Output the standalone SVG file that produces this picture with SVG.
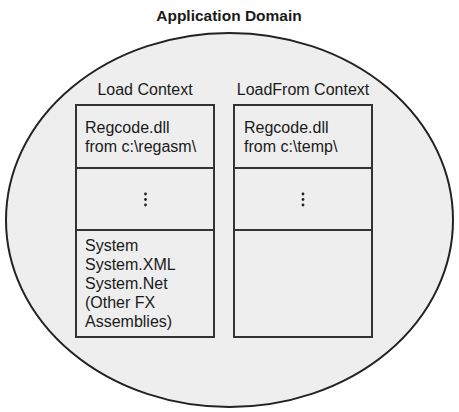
<svg xmlns="http://www.w3.org/2000/svg" width="459" height="412" viewBox="0 0 459 412">
<style>
.t{font-family:"Liberation Sans",Arial,sans-serif;font-size:16px;fill:#1a1a1a}
.h{font-family:"Liberation Sans",Arial,sans-serif;font-size:16px;fill:#1a1a1a}
.title{font-family:"Liberation Sans",Arial,sans-serif;font-size:15.5px;font-weight:bold;fill:#1a1a1a}
.box{fill:#eeeeee;stroke:#333;stroke-width:2}
.div{stroke:#333;stroke-width:2}
</style>
<rect width="459" height="412" fill="#fff"/>
<g id="domain">
<ellipse cx="229.5" cy="220" rx="223.5" ry="187" fill="#eeeeee" stroke="#222" stroke-width="2"/>
<text class="title" x="229" y="21" text-anchor="middle">Application Domain</text>
</g>
<g id="load-context">
<text class="h" x="145" y="95" text-anchor="middle">Load Context</text>
<rect class="box" x="76" y="105" width="138" height="232"/>
<line class="div" x1="76" y1="168" x2="214" y2="168"/>
<line class="div" x1="76" y1="230" x2="214" y2="230"/>
<text class="t" x="85" y="133">Regcode.dll</text>
<text class="t" x="85" y="152">from c:\regasm\</text>
<g fill="#222"><circle cx="145.5" cy="194" r="1.4"/><circle cx="145.5" cy="199.5" r="1.4"/><circle cx="145.5" cy="205" r="1.4"/></g>
<text class="t" x="85" y="251">System</text>
<text class="t" x="85" y="270">System.XML</text>
<text class="t" x="85" y="289">System.Net</text>
<text class="t" x="85" y="308">(Other FX</text>
<text class="t" x="85" y="327">Assemblies)</text>
</g>
<g id="loadfrom-context">
<text class="h" x="303" y="95" text-anchor="middle">LoadFrom Context</text>
<rect class="box" x="234" y="105" width="138" height="232"/>
<line class="div" x1="234" y1="168" x2="372" y2="168"/>
<line class="div" x1="234" y1="230" x2="372" y2="230"/>
<text class="t" x="244" y="133">Regcode.dll</text>
<text class="t" x="244" y="152">from c:\temp\</text>
<g fill="#222"><circle cx="303" cy="194" r="1.4"/><circle cx="303" cy="199.5" r="1.4"/><circle cx="303" cy="205" r="1.4"/></g>
</g>
<g id="connectors"/>
</svg>
